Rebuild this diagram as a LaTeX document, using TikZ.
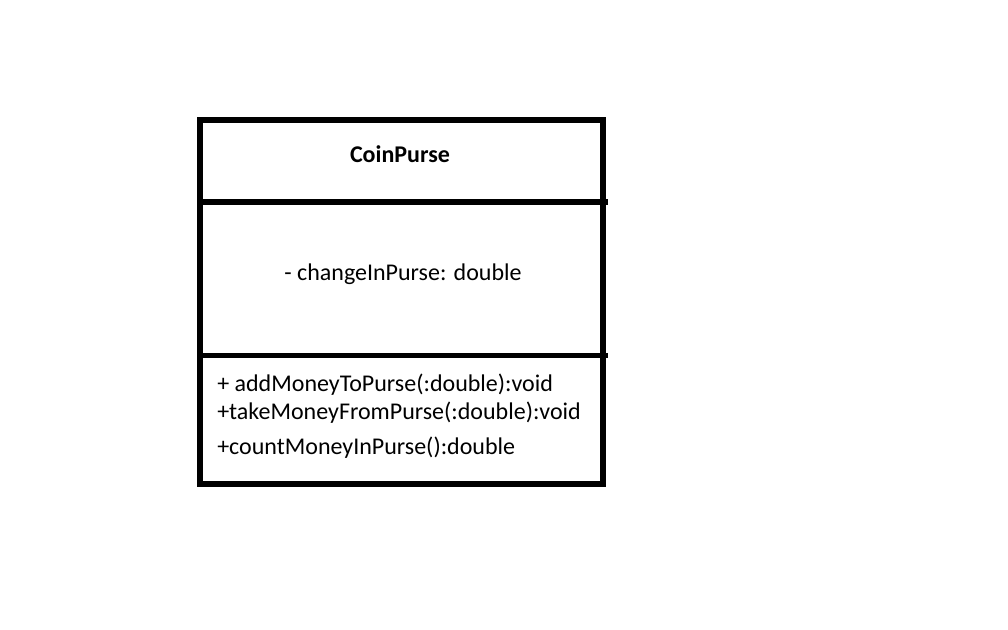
\documentclass[tikz,border=0pt]{standalone}
\usepackage{fontspec}
\setmainfont{Carlito}
\begin{document}
\begin{tikzpicture}
        [
            x=0.75pt, y=-0.75pt,
            every node/.style={inner sep=0pt, font=\fontsize{18}{21}\selectfont},
            classname/.style={anchor=base, font=\fontsize{18}{21}\selectfont\bfseries},
            attribute/.style={anchor=base},
            operation/.style={anchor=base west},
            boxline/.style={line width=4pt}
        ]

        \useasboundingbox (0,0) rectangle (1008,630);

        % class box
        \coordinate (topleft) at (200,120);
        \coordinate (botright) at (603,484);
        \draw[boxline] (topleft) rectangle (botright);
        \coordinate (split1l) at (200,202);
        \coordinate (split1r) at (608,202);
        \coordinate (split2l) at (200,355.5);
        \coordinate (split2r) at (608,355.5);
        \draw[boxline] (split1l) -- (split1r);
        \draw[boxline] (split2l) -- (split2r);

        \node[classname] (name) at (400,163) {CoinPurse};
        \node[attribute] (attr) at (403,281) {- changeInPurse: double};
        \node[operation] (opadd) at (217,392) {+ addMoneyToPurse(:double):void};
        \node[operation] (optake) at (217,420) {+takeMoneyFromPurse(:double):void};
        \node[operation] (opcount) at (217,455) {+countMoneyInPurse():double};
    \end{tikzpicture}
\end{document}
